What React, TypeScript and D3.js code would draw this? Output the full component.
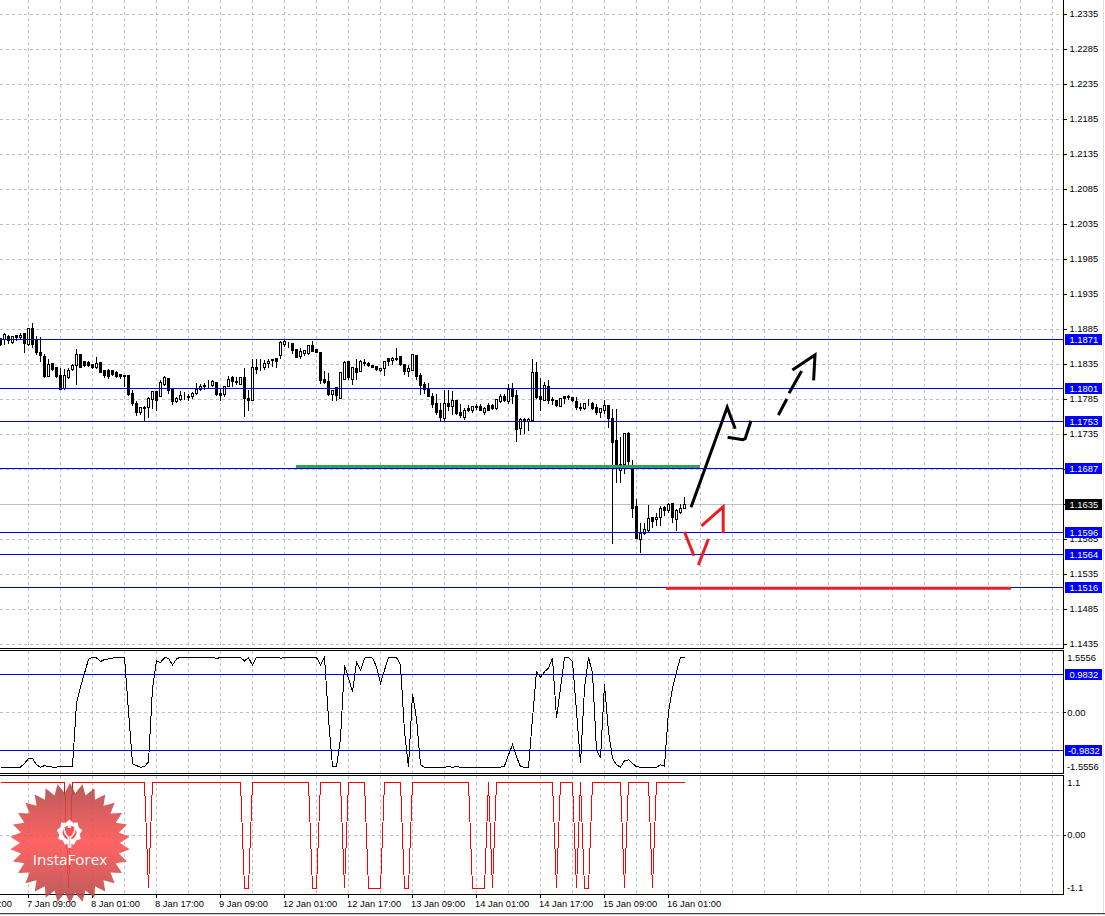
import React from "react";
import * as d3 from "d3";

// Hourly candles, prices in 1/10000 units
const opens = [
11872,11870,11875,11867,11876,11873,11879,11864,11887,11869,
11852,11847,11818,11837,11830,11819,11801,11817,11828,11834,
11849,11840,11838,11835,11830,11838,11826,11826,11826,11824,
11821,11819,11819,11793,11779,11767,11774,11773,11785,11796,
11789,11806,11815,11799,11782,11785,11790,11790,11789,11793,
11799,11805,11804,11805,11809,11793,11792,11804,11816,11811,
11807,11816,11787,11783,11831,11831,11830,11837,11842,11843,
11848,11864,11867,11865,11856,11847,11851,11850,11862,11856,
11852,11813,11811,11792,11802,11787,11814,11839,11814,11829,
11825,11838,11837,11834,11832,11826,11829,11843,11841,11844,
11846,11835,11825,11827,11848,11820,11806,11801,11790,11779,
11770,11758,11780,11775,11784,11766,11760,11772,11769,11775,
11775,11767,11776,11776,11772,11782,11790,11782,11799,11791,
11743,11756,11754,11755,11824,11789,11784,11803,11785,11783,
11775,11789,11789,11788,11782,11774,11772,11780,11779,11773,
11766,11769,11777,11758,11727,11683,11692,11736,11689,11632,
11585,11593,11598,11617,11613,11616,11631,11626,11636,11614,
11624,11630];
const closes = [
11864,11878,11869,11875,11874,11876,11865,11886,11863,11852,
11848,11818,11835,11828,11818,11800,11819,11827,11833,11849,
11830,11833,11833,11830,11836,11824,11819,11818,11821,11818,
11818,11818,11792,11779,11767,11773,11772,11786,11796,11783,
11809,11817,11798,11782,11787,11791,11789,11788,11794,11799,
11804,11803,11803,11811,11792,11791,11803,11814,11811,11809,
11816,11786,11783,11830,11828,11830,11836,11840,11841,11839,
11866,11868,11866,11855,11845,11853,11855,11862,11854,11852,
11812,11810,11792,11798,11791,11824,11838,11816,11830,11824,
11840,11837,11834,11831,11828,11829,11840,11840,11843,11842,
11835,11825,11829,11849,11818,11805,11799,11790,11778,11767,
11760,11779,11775,11783,11765,11762,11770,11770,11775,11774,
11770,11772,11770,11772,11785,11790,11783,11799,11789,11742,
11757,11754,11756,11823,11788,11785,11805,11784,11783,11776,
11787,11787,11788,11783,11774,11772,11779,11779,11772,11766,
11772,11777,11758,11724,11691,11692,11736,11697,11630,11586,
11594,11599,11615,11611,11617,11630,11626,11635,11616,11627,
11630,11635];
const highs = [
11874,11880,11878,11876,11876,11880,11879,11886,11895,11876,
11875,11850,11843,11838,11831,11831,11829,11831,11837,11858,
11850,11841,11841,11836,11846,11839,11827,11829,11828,11826,
11822,11820,11821,11800,11784,11774,11777,11789,11798,11798,
11814,11819,11817,11800,11789,11798,11797,11794,11796,11810,
11808,11810,11813,11813,11810,11802,11805,11819,11819,11818,
11818,11831,11800,11843,11843,11844,11842,11844,11843,11843,
11869,11870,11868,11866,11857,11860,11857,11864,11869,11857,
11853,11826,11824,11800,11802,11824,11841,11840,11831,11844,
11842,11843,11839,11835,11833,11831,11841,11845,11846,11859,
11847,11836,11835,11851,11849,11824,11811,11809,11795,11794,
11781,11800,11800,11798,11785,11779,11774,11778,11776,11779,
11780,11775,11781,11779,11786,11794,11794,11808,11810,11800,
11760,11759,11759,11844,11839,11817,11811,11814,11790,11784,
11788,11791,11792,11790,11789,11781,11781,11787,11782,11779,
11774,11785,11777,11772,11772,11732,11738,11740,11700,11643,
11610,11610,11635,11618,11624,11634,11634,11638,11638,11630,
11636,11646];
const lows = [
11862,11864,11865,11865,11869,11872,11852,11862,11859,11849,
11840,11816,11818,11827,11817,11800,11800,11815,11826,11806,
11830,11832,11832,11829,11829,11823,11817,11815,11819,11816,
11815,11803,11791,11777,11762,11763,11754,11760,11772,11769,
11789,11805,11794,11778,11781,11784,11785,11784,11787,11792,
11798,11799,11802,11804,11791,11783,11789,11803,11803,11806,
11806,11761,11769,11783,11822,11827,11828,11830,11832,11830,
11844,11861,11860,11851,11845,11844,11848,11849,11853,11852,
11808,11808,11791,11784,11784,11787,11814,11814,11806,11814,
11825,11833,11832,11830,11826,11825,11820,11833,11835,11841,
11834,11821,11818,11826,11814,11792,11793,11789,11774,11764,
11753,11754,11769,11764,11764,11760,11757,11768,11767,11771,
11769,11763,11769,11771,11771,11781,11782,11779,11780,11725,
11735,11736,11741,11754,11786,11769,11783,11779,11778,11775,
11775,11779,11785,11782,11771,11770,11771,11776,11771,11764,
11759,11765,11745,11580,11666,11666,11679,11689,11616,11586,
11566,11592,11597,11602,11605,11605,11619,11623,11610,11598,
11622,11629];

// Oscillator pane
const oscillator = [
-1.42,-1.42,-1.42,-1.42,-1.42,-1.42,-1.32,-1.20,-1.19,-1.36,
-1.42,-1.38,-1.40,-1.42,-1.42,-1.40,-1.40,-1.40,-1.40,0.23,
0.66,1.01,1.37,1.43,1.41,1.31,1.37,1.38,1.40,1.42,
1.43,1.43,0.02,-1.33,-1.38,-1.42,-1.41,-1.28,0.62,1.33,
1.29,1.41,1.40,1.22,1.38,1.43,1.43,1.43,1.43,1.43,
1.43,1.43,1.43,1.43,1.39,1.42,1.41,1.42,1.42,1.42,
1.42,1.33,1.41,1.22,1.42,1.43,1.43,1.43,1.43,1.43,
1.40,1.41,1.42,1.42,1.42,1.42,1.42,1.42,1.42,1.42,
1.22,1.42,-0.16,-1.40,-1.40,-0.67,1.22,0.88,0.53,1.29,
1.09,1.40,1.43,1.40,1.18,0.75,1.09,1.42,1.42,1.42,
1.22,-0.50,-1.41,0.47,-0.16,-1.36,-1.42,-1.42,-1.42,-1.42,
-1.42,-1.42,-1.41,-1.42,-1.41,-1.42,-1.42,-1.42,-1.42,-1.42,
-1.42,-1.42,-1.42,-1.42,-1.42,-1.42,-1.39,-1.10,-0.84,-1.15,
-1.41,-1.42,-1.42,-0.16,1.05,0.91,1.05,1.14,1.40,-0.14,
0.62,1.42,1.42,1.31,0.02,-1.32,0.62,1.42,1.01,-0.97,
-1.19,0.72,-0.50,-1.19,-1.36,-1.42,-1.25,-1.23,-1.32,-1.41,
-1.42,-1.42,-1.42,-1.42,-1.42,-1.36,-1.39,0.02,0.62,1.05,
1.42,1.42];
const oscLevels = [0.9832, -0.9832];

// Signal pane
const signal = [
1,1,1,1,1,1,1,1,1,1,
1,1,1,1,1,1,1,-1,1,1,
1,1,1,1,1,1,1,1,1,1,
1,1,1,1,1,1,1,-1,1,1,
1,1,1,1,1,1,1,1,1,1,
1,1,1,1,1,1,1,1,1,1,
1,-1,-1,1,1,1,1,1,1,1,
1,1,1,1,1,1,1,1,-1,-1,
1,1,1,1,1,1,-1,1,1,1,
1,1,-1,-1,-1,-1,1,1,1,1,
1,-1,-1,1,1,1,1,1,1,1,
1,1,1,1,1,1,1,1,-1,-1,
-1,-1,1,-1,1,1,1,1,1,1,
1,1,1,1,1,1,1,1,1,-1,
1,1,1,1,-1,1,-1,-1,1,1,
1,1,1,1,1,1,-1,1,1,1,
1,1,1,-1,1,1,1,1,1,1,
1,1];

const priceTicks = [1.2335,1.2285,1.2235,1.2185,1.2135,1.2085,1.2035,1.1985,1.1935,1.1885,1.1835,1.1785,1.1735,1.1685,1.1635,1.1585,1.1535,1.1485,1.1435];
const levelPrices = [1.1871,1.1801,1.1753,1.1687,1.1595,1.1564,1.1516];
const levelLabels = ["1.1871","1.1801","1.1753","1.1687","1.1596","1.1564","1.1516"];
const lastPrice = 1.1635;

const timeTickBars = [-9,7,23,39,55,71,87,103,119,135,151,167];
const timeTickLabels = ["6 Jan 17:00","7 Jan 09:00","8 Jan 01:00","8 Jan 17:00","9 Jan 09:00","12 Jan 01:00","12 Jan 17:00","13 Jan 09:00","14 Jan 01:00","14 Jan 17:00","15 Jan 09:00","16 Jan 01:00"];
const gridBars = d3.range(7, 264, 8);

// Hand-drawn forecast strokes: [bar, price in 1/10000]
const blackStrokes: [number, number][][] = [
  [[172.75,11630.3],[181.8,11773.1],[183.8,11742.6]],
  [[181.9,11730.3],[185.7,11726.9],[186.3,11728.3],[187.75,11754]],
  [[194.6,11762.1],[196.7,11785]],
  [[197.25,11793.1],[200.4,11825]],
  [[198.1,11826.4],[203.75,11847.9],[203.4,11811.7]],
];
const redStrokes: [number, number][][] = [
  [[171.1,11595.4],[173.5,11561.1]],
  [[177.1,11585],[174.6,11547.9]],
  [[175.4,11603.6],[180.8,11631.1],[180.8,11593.1]],
  [[166.5,11514.6],[252.75,11514.6]],
];
const greenStrokes: [number, number][][] = [[[74,11688.6],[175,11688.6]]];

const W = 1105, H = 916, AX = 1063;
const x = d3.scaleLinear().domain([0, 171]).range([0, 684]);
const yP = d3.scaleLinear().domain([1.1885, 1.1835]).range([329, 364]);
const yO = d3.scaleLinear().domain([0.9832, -0.9832]).range([674.3, 750.3]);
const yS = d3.scaleLinear().domain([1, -1]).range([782.3, 888.3]);
const px = (v: number) => Math.round(v) + 0.5;
const FONT = "'Liberation Sans', Arial, sans-serif";
const GRID = "#c0c0c0";
const BLUE = "#0000e0";
const DASH = "3 3";

const strokeLine = d3.line<[number, number]>().x(d => x(d[0])).y(d => yP(d[1] / 10000));

function starPath(cx: number, cy: number, rOut: number, rIn: number, n: number) {
  const pts: [number, number][] = [];
  for (let i = 0; i < n * 2; i++) {
    const a = (i * Math.PI) / n;
    const r = i % 2 === 0 ? rOut : rIn;
    pts.push([cx + Math.sin(a) * r, cy - Math.cos(a) * r]);
  }
  return d3.line()(pts) + "Z";
}

const AxisText = ({ x: tx, y, children, fill = "#000" }: any) => (
  <text x={tx} y={y} fontFamily={FONT} fontSize={9.4} fill={fill} dominantBaseline="central">{children}</text>
);

export default function App() {
  const oscLine = d3.line<number>().x((_, i) => x(i) + 0.5).y(d => yO(d))(oscillator) as string;
  const sigLine = d3.line<number>().x((_, i) => x(i) + 0.5).y(d => yS(d))(signal) as string;
  const gridXs = gridBars.map(b => x(b) + 0.5);
  return (
    <svg width={W} height={H} style={{ position: "absolute", left: 0, top: 0, background: "#fff" }}>
      <defs>
        <linearGradient id="wm" x1="0" y1="0" x2="0" y2="1">
          <stop offset="0" stopColor="#b04444" />
          <stop offset="0.5" stopColor="#ff4f4f" />
          <stop offset="1" stopColor="#b04444" />
        </linearGradient>
        <clipPath id="mainClip"><rect x={0} y={0} width={AX} height={648} /></clipPath>
      </defs>

      {/* grid */}
      <g shapeRendering="crispEdges" stroke={GRID} strokeDasharray={DASH} fill="none">
        {gridXs.map(gx => <line key={"a" + gx} x1={gx} x2={gx} y1={0} y2={648} />)}
        {gridXs.map(gx => <line key={"b" + gx} x1={gx} x2={gx} y1={651} y2={773} />)}
        {gridXs.map(gx => <line key={"c" + gx} x1={gx} x2={gx} y1={776} y2={894} />)}
        {priceTicks.map(t => <line key={t} x1={0} x2={AX} y1={px(yP(t))} y2={px(yP(t))} />)}
        <line x1={0} x2={AX} y1={px(yO(0))} y2={px(yO(0))} />
        <line x1={0} x2={AX} y1={px(yS(0))} y2={px(yS(0))} />
      </g>

      {/* last price */}
      <line x1={0} x2={AX} y1={px(yP(lastPrice))} y2={px(yP(lastPrice))} stroke="#c0c0c0" shapeRendering="crispEdges" />

      {/* candles */}
      <g shapeRendering="crispEdges" stroke="#000" clipPath="url(#mainClip)">
        {opens.map((o, i) => {
          const c = closes[i];
          const cx = x(i) + 0.5;
          const top = px(yP(Math.max(o, c) / 10000));
          const bot = px(yP(Math.min(o, c) / 10000));
          return (
            <g key={i}>
              <line x1={cx} x2={cx} y1={px(yP(highs[i] / 10000))} y2={px(yP(lows[i] / 10000))} />
              <rect x={cx - 1} y={top} width={2} height={Math.max(bot - top, 0)} fill={c >= o ? "#fff" : "#000"} />
            </g>
          );
        })}
      </g>

      {/* levels */}
      <g shapeRendering="crispEdges" stroke={BLUE}>
        {levelPrices.map(l => <line key={l} x1={0} x2={AX} y1={px(yP(l))} y2={px(yP(l))} />)}
      </g>

      {/* forecast strokes */}
      <g fill="none" strokeWidth={3} strokeLinejoin="miter">
        {greenStrokes.map((s, i) => <path key={i} d={strokeLine(s) as string} stroke="#2fa35a" />)}
        {blackStrokes.map((s, i) => <path key={i} d={strokeLine(s) as string} stroke="#000" />)}
        {redStrokes.map((s, i) => <path key={i} d={strokeLine(s) as string} stroke="#ee1c25" />)}
      </g>

      {/* oscillator */}
      <g shapeRendering="crispEdges" stroke={BLUE}>
        {oscLevels.map(l => <line key={l} x1={0} x2={AX} y1={px(yO(l))} y2={px(yO(l))} />)}
      </g>
      <path d={oscLine} fill="none" stroke="#000" shapeRendering="crispEdges" />

      {/* signal */}
      <path d={sigLine} fill="none" stroke="#f00" shapeRendering="crispEdges" />

      {/* frames */}
      <g stroke="#000" shapeRendering="crispEdges" fill="none">
        <line x1={AX + 0.5} x2={AX + 0.5} y1={0} y2={648.5} />
        <line x1={AX + 0.5} x2={AX + 0.5} y1={650} y2={773.5} />
        <line x1={AX + 0.5} x2={AX + 0.5} y1={775} y2={894.5} />
        <line x1={0} x2={AX + 1} y1={648.5} y2={648.5} />
        <line x1={0} x2={AX + 1} y1={650.5} y2={650.5} />
        <line x1={0} x2={AX + 1} y1={773.5} y2={773.5} />
        <line x1={0} x2={AX + 1} y1={775.5} y2={775.5} />
        <line x1={0} x2={AX + 1} y1={894.5} y2={894.5} />
        {priceTicks.map(t => <line key={t} x1={AX} x2={AX + 4} y1={px(yP(t))} y2={px(yP(t))} />)}
        <line x1={AX} x2={AX + 3} y1={px(yO(0))} y2={px(yO(0))} />
        <line x1={AX} x2={AX + 3} y1={px(yS(0))} y2={px(yS(0))} />
        {timeTickBars.filter(b => b >= 0).map(b => <line key={b} x1={x(b) + 0.5} x2={x(b) + 0.5} y1={894} y2={898} />)}
      </g>
      <g shapeRendering="crispEdges" fill="none">
        <line x1={0} x2={W} y1={913.5} y2={913.5} stroke="#404040" />
        <line x1={0} x2={W} y1={914.5} y2={914.5} stroke="#d0d0d0" />
        <line x1={1103.5} x2={1103.5} y1={0} y2={913} stroke="#e0e0e0" strokeWidth={1} />
      </g>

      {/* axis labels */}
      {priceTicks.map(t => <AxisText key={t} x={1069.5} y={yP(t) - 0.5}>{t.toFixed(4)}</AxisText>)}
      <AxisText x={1067.3} y={657.3}>1.5556</AxisText>
      <AxisText x={1067.3} y={712}>0.00</AxisText>
      <AxisText x={1067} y={766.7}>-1.5556</AxisText>
      <AxisText x={1067.3} y={782}>1.1</AxisText>
      <AxisText x={1067.3} y={834.5}>0.00</AxisText>
      <AxisText x={1067} y={887.5}>-1.1</AxisText>
      {timeTickBars.map((b, i) => <AxisText key={b} x={x(b) - 1} y={903}>{timeTickLabels[i]}</AxisText>)}

      {/* label boxes */}
      {levelPrices.map((l, i) => (
        <g key={l}>
          <rect x={1065} y={Math.round(yP(l)) - 5} width={36.5} height={11} fill="#0000ff" shapeRendering="crispEdges" />
          <AxisText x={1069.5} y={Math.round(yP(l)) + 0.5} fill="#fff">{levelLabels[i]}</AxisText>
        </g>
      ))}
      <rect x={1065} y={Math.round(yP(lastPrice)) - 5} width={36.5} height={11} fill="#000" shapeRendering="crispEdges" />
      <AxisText x={1069.5} y={Math.round(yP(lastPrice)) + 0.5} fill="#fff">{lastPrice.toFixed(4)}</AxisText>
      {oscLevels.map(l => (
        <g key={l}>
          <rect x={1065} y={Math.round(yO(l)) - 5.5} width={36.5} height={11.5} fill="#0000ff" shapeRendering="crispEdges" />
          <AxisText x={l > 0 ? 1069.5 : 1068} y={Math.round(yO(l)) + 0.5} fill="#fff">{l.toFixed(4)}</AxisText>
        </g>
      ))}

      {/* watermark */}
      <g>
        <path d={starPath(70, 843, 60, 50, 30)} fill="url(#wm)" opacity={0.88} />
        <path d={starPath(69.5, 832.5, 13, 10.5, 9)} fill="#fff" />
        <circle cx={69.5} cy={832.5} r={7} fill="#ff5050" />
        <circle cx={69.5} cy={827} r={1.8} fill="#fff" />
        <path d="M64 828 Q64.5 835 68.5 837 L68.5 847 L70.5 847 L70.5 837 Q74.5 835 75 828" fill="#ff5050" stroke="#fff" strokeWidth={1.6} />
        <text x={70} y={858.5} textAnchor="middle" dominantBaseline="central" fontFamily="'Open Sans', sans-serif" fontSize={15.2} fill="#fff">InstaForex</text>
      </g>
    </svg>
  );
}
